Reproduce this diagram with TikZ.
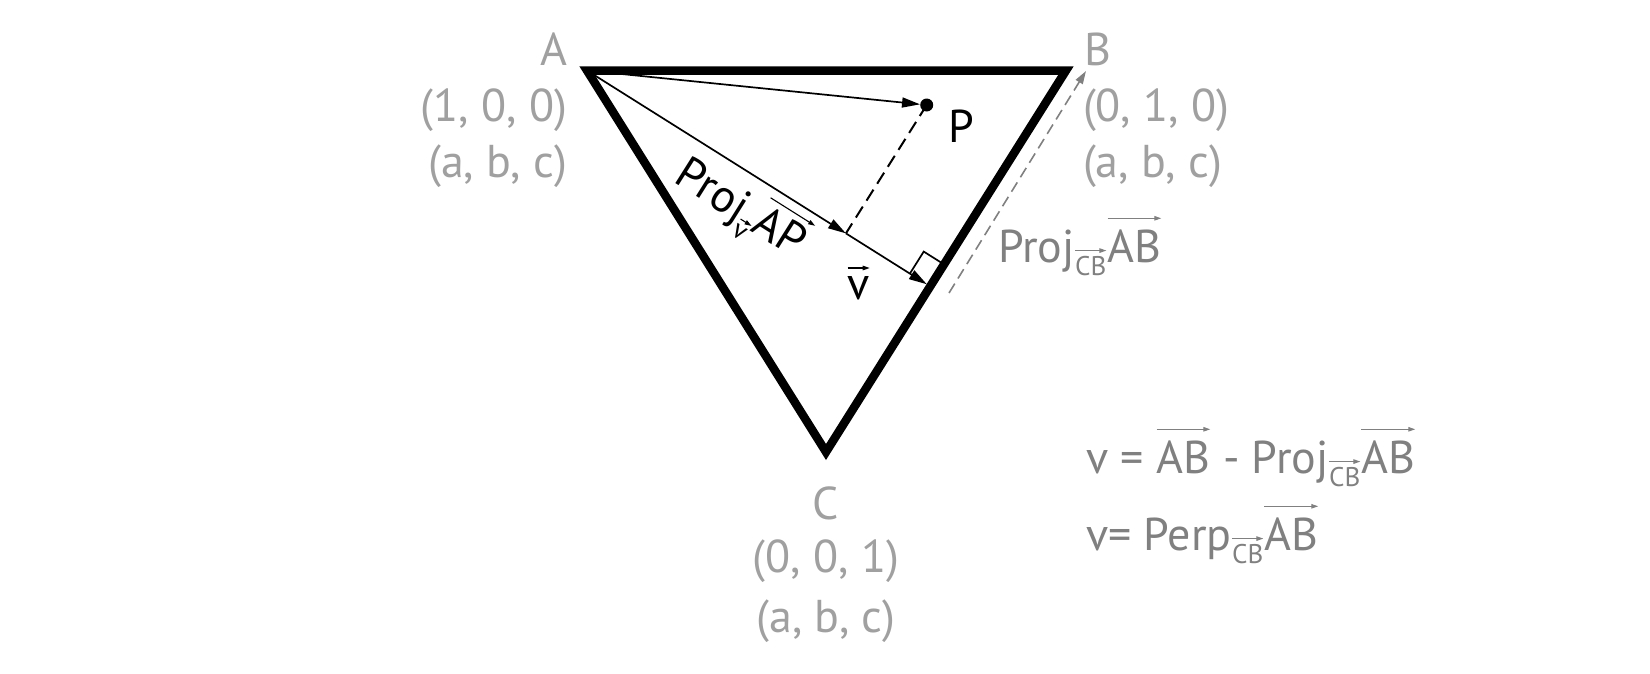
\documentclass[tikz,border=0pt]{standalone}
\usepackage{fontspec}
\setmainfont{PT Sans}
\usetikzlibrary{arrows.meta,calc}
\definecolor{lgray}{RGB}{160,160,160}
\definecolor{dgray}{RGB}{128,128,128}
% vector arrow over text: #1 colour, #2 raise, #3 content
\newcommand{\varr}[3]{\tikz[x=1cm,y=1cm,baseline=(t.base)]{\node[inner sep=0pt,outer sep=0pt,anchor=base](t) at (0,0){#3};\draw[#1,line width=1.1pt,-{Triangle[length=7pt,width=4.5pt]}] ([yshift=#2]t.north west) -- ([yshift=#2]t.north east);}}
\newcommand{\mysub}[2]{\raisebox{-0.3em}{\fontsize{#1}{#1}\selectfont #2}}
\tikzset{
  lab/.style={inner sep=0pt,outer sep=0pt,text=lgray,font=\fontsize{46}{50}\selectfont},
  formula/.style={inner sep=0pt,outer sep=0pt,text=dgray,font=\fontsize{46}{50}\selectfont},
  blk/.style={inner sep=0pt,outer sep=0pt,text=black,font=\fontsize{46}{50}\selectfont},
  thinarrow/.style={line width=1.7pt,-{Triangle[length=18pt,width=10pt]}},
  blackdashed/.style={line width=2pt,dash pattern=on 13pt off 7pt},
  graydashed/.style={line width=1.6pt,draw=dgray,dash pattern=on 11pt off 6pt,-{Triangle[length=13pt,width=8pt]}}
}
\begin{document}
\begin{tikzpicture}[x=1pt,y=-1pt]
\useasboundingbox (0,0) rectangle (1650,673);
\coordinate (A) at (587,70.5);
\coordinate (B) at (1066,70.5);
\coordinate (C) at (826,452);
\coordinate (F) at ($(B)!(A)!(C)$);
\node[circle,fill=black,inner sep=0pt,minimum size=13pt] (P) at (926.7,105) {};
\coordinate (Q) at ($(A)!(P.center)!(F)$);
\coordinate (G1) at (949,293);
\coordinate (G2) at (1086,71);
% thin vectors
\draw[thinarrow] (A) -- (P);
\draw[blackdashed] (P.center) -- (Q);
\draw[thinarrow] (A) -- (Q);
\draw[thinarrow,shorten >=4pt] (Q) -- (F);
% right angle mark
\coordinate (R1) at ($(F)!24pt!(A)$);
\coordinate (R2) at ($(F)!26pt!(B)$);
\draw[line width=1.7pt] (R1) -- ($(R1)+(R2)-(F)$) -- (R2);
% triangle
\draw[line width=8.5pt,line join=miter] (A) -- (B) -- (C) -- cycle;
% projection of AB on CB
\draw[graydashed] (G1) -- (G2);
% vertex labels
\node[lab,anchor=base east] (la) at (567,65) {A};
\node[lab,anchor=base east] (la1) at (567,121) {(1, 0, 0)};
\node[lab,anchor=base east] (la2) at (567,177) {(a, b, c)};
\node[lab,anchor=base west] (lb) at (1084,65) {B};
\node[lab,anchor=base west] (lb1) at (1083,121) {(0, 1, 0)};
\node[lab,anchor=base west] (lb2) at (1083,177) {(a, b, c)};
\node[lab,anchor=base] (lc) at (826,519) {C};
\node[lab,anchor=base] (lc1) at (826,572) {(0, 0, 1)};
\node[lab,anchor=base] (lc2) at (826,632) {(a, b, c)};
% black labels
\node[blk,anchor=base west] (lp) at (948,142) {P};
\node[blk,anchor=base west] (lv) at (847,299) {\varr{black}{8pt}{v}};
\node[blk,rotate=-32.2] (lproj) at (741,209) {Proj\mysub{27}{\varr{black}{5pt}{v}}\varr{black}{6pt}{AP}};
% grey formulas
\node[lab,text=dgray,anchor=base west] (lprojcb) at (998,262) {Proj\mysub{27}{\varr{dgray}{6pt}{CB}}\varr{dgray}{11pt}{AB}};
\node[formula,anchor=base west] (f1) at (1086,473) {v = \varr{dgray}{11pt}{AB} - Proj\mysub{27}{\varr{dgray}{6pt}{CB}}\varr{dgray}{11pt}{AB}};
\node[formula,anchor=base west] (f2) at (1086,550) {v= Perp\mysub{27}{\varr{dgray}{6pt}{CB}}\varr{dgray}{11pt}{AB}};
\end{tikzpicture}
\end{document}
